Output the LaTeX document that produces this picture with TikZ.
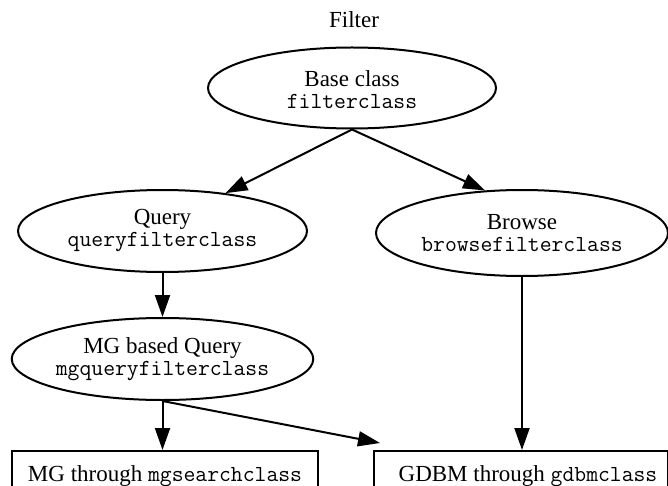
\documentclass[tikz,border=0pt]{standalone}
\usepackage{fontspec}
\setmainfont{Liberation Serif}
\usetikzlibrary{shapes.geometric,arrows.meta,calc}
\newcommand{\rmsz}{\fontsize{23}{24}\selectfont}
\newcommand{\ttsz}{\ttfamily\fontsize{23}{24}\selectfont}
\tikzset{
  cls/.style={draw, ellipse, line width=2pt, inner sep=0pt, align=center, font=\rmsz},
  impl/.style={draw, rectangle, line width=2pt, inner sep=0pt, align=center, font=\rmsz},
  arr/.style={line width=2pt, -{Triangle[length=22pt,width=15pt]}},
}
\begin{document}
\begin{tikzpicture}[x=1pt,y=-1pt]
\useasboundingbox (0,0) rectangle (668,486);
\clip (0,0) rectangle (668,486);
\node[font=\rmsz, anchor=base] (title) at (354,28) {Filter};
\node[cls, minimum width=288pt, minimum height=81pt] (base) at (352,88)
  {\rule{0pt}{24pt}Base class\\[-2pt]{\ttsz filterclass\vphantom{y}}};
\node[cls, minimum width=289pt, minimum height=82pt] (query) at (162.5,231)
  {Query\\[-2pt]{\ttsz queryfilterclass}};
\node[cls, minimum width=292pt, minimum height=86pt] (browse) at (522,233)
  {Browse\\[-2pt]{\ttsz browsefilterclass}};
\node[cls, minimum width=289pt, minimum height=82pt] (mg) at (162.5,359)
  {MG based Query\\[-2pt]{\ttsz mgqueryfilterclass}};
\node[impl, minimum width=306pt, minimum height=60pt, anchor=north] (mgbox) at (165,450)
  {\raisebox{15pt}{MG through {\ttsz mgsearchclass}}};
\node[impl, minimum width=294pt, minimum height=60pt, anchor=north west] (gdbm) at (373,450)
  {\raisebox{15pt}{\hspace*{14pt}GDBM through {\ttsz gdbmclass}}};
\draw[arr] (base.south) -- (query.31);
\draw[arr] (base.south) -- (browse.131);
\draw[arr] (query.south) -- (mg.north);
\draw[arr] (mg.south) -- (mg.south |- mgbox.north);
\draw[arr] (mg.south) -- ([xshift=7pt,yshift=7pt]gdbm.north west);
\draw[arr] (browse.south) -- (browse.south |- gdbm.north);
\end{tikzpicture}
\end{document}
